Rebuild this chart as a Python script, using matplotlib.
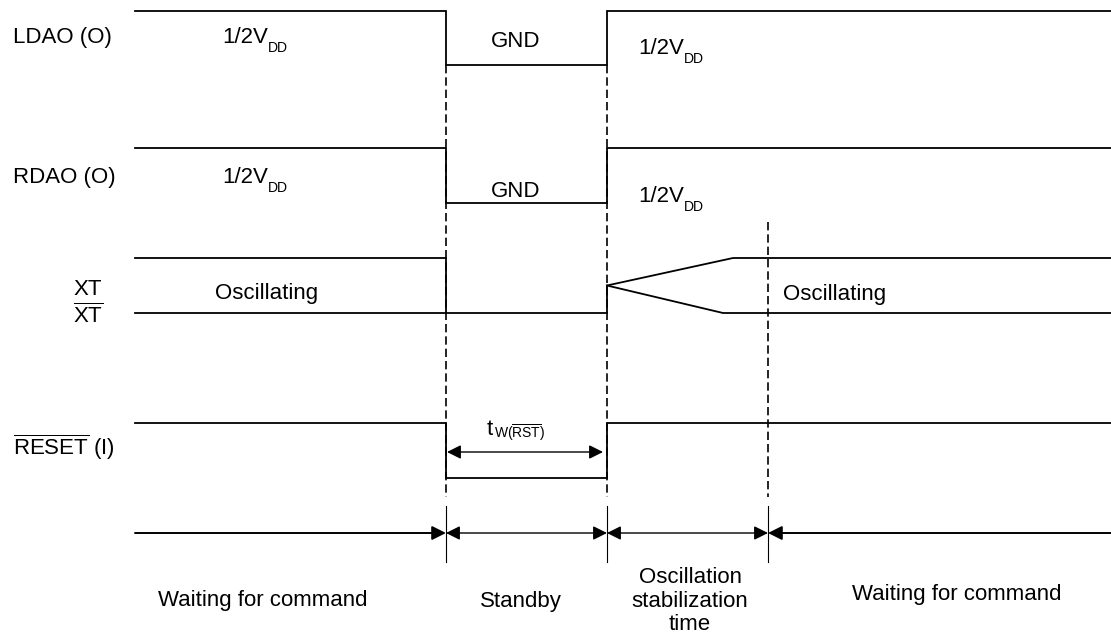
import matplotlib.pyplot as plt

plt.rcParams['font.family'] = ['Liberation Sans', 'DejaVu Sans']
plt.rcParams['mathtext.fontset'] = 'custom'
plt.rcParams['mathtext.rm'] = 'Liberation Sans'
plt.rcParams['mathtext.it'] = 'Liberation Sans:italic'
plt.rcParams['mathtext.bf'] = 'Liberation Sans:bold'

# time marks along the diagram (pixel units)
t_start = 135
t_end = 1111
t_off = 446      # standby starts
t_on = 607       # standby ends
t_stable = 768   # oscillation stable
t_xt_up = 733    # envelope reaches full swing (top)
t_xt_dn = 723    # envelope reaches full swing (bottom)

# (high y, low y) of each row
ldao_row = (11, 65)
rdao_row = (148, 203)
xt_row = (258, 313)
reset_row = (423, 478)
timeline_y = 533

# waveforms: times and levels (1 = high, 0 = low)
ldao_t = [t_start, t_off, t_off, t_on, t_on, t_end]
ldao_v = [1, 1, 0, 0, 1, 1]
rdao_t = [t_start, t_off, t_off, t_on, t_on, t_end]
rdao_v = [1, 1, 0, 0, 1, 1]
reset_t = [t_start, t_off, t_off, t_on, t_on, t_end]
reset_v = [1, 1, 0, 0, 1, 1]

# XT / XT-bar envelope, several pieces
xt_pieces = [
    ([t_start, t_off, t_off], [1, 1, 0]),
    ([t_start, t_on, t_on], [0, 0, 0.5]),
    ([t_on, t_xt_up, t_end], [0.5, 1, 1]),
    ([t_on, t_xt_dn, t_end], [0.5, 0, 0]),
]

phase_edges = [t_start, t_off, t_on, t_stable, t_end]
phase_heads = ['-|>', '<|-|>', '<|-|>', '<|-']
phase_lw = [1.4, 1.0, 1.0, 1.4]
phase_labels = ['Waiting for command', 'Standby',
                'Oscillation\nstabilization\ntime', 'Waiting for command']
phase_label_x = [263, 521, 690, 957]
phase_label_y = [606, 607, 630, 600]   # baseline of last line

# 1/2VDD labels: (x, baseline y)
vdd_pos = [(222, 43), (222, 183), (638, 54), (638, 202)]

fs = 16
fs_sub = 10


def level_y(row, v):
    hi, lo = row
    return [lo + (hi - lo) * s for s in v]


def sub_text(ax, x, y, main, sub, drop=2.6):
    t = ax.text(x, y, main, fontsize=fs, va='baseline')
    ax.annotate(sub, xy=(1, 0), xycoords=t, xytext=(0.3, -drop),
                textcoords='offset points', fontsize=fs_sub,
                ha='left', va='baseline')
    return t


fig = plt.figure(figsize=(11.11, 6.34), dpi=100)
ax = fig.add_axes([0, 0, 1, 1])
ax.set_xlim(0, 1111)
ax.set_ylim(634, 0)
ax.axis('off')

sig_kw = dict(color='black', lw=1.3, solid_joinstyle='miter')
ax.plot(ldao_t, level_y(ldao_row, ldao_v), **sig_kw)
ax.plot(rdao_t, level_y(rdao_row, rdao_v), **sig_kw)
ax.plot(reset_t, level_y(reset_row, reset_v), **sig_kw)
for t, v in xt_pieces:
    ax.plot(t, level_y(xt_row, v), **sig_kw)

# dashed guide lines
dash_kw = dict(color='black', lw=1.2, linestyle=(0, (5, 2.4)))
ax.plot([t_off, t_off], [ldao_row[1], 497], **dash_kw)
ax.plot([t_on, t_on], [ldao_row[1], 497], **dash_kw)
ax.plot([t_stable, t_stable], [222, 497], **dash_kw)

# thin tick lines on the timeline
for x in phase_edges[1:-1]:
    ax.plot([x, x], [506, 562], color='black', lw=0.8)

# phase arrows
for i in range(len(phase_edges) - 1):
    ax.annotate('', xy=(phase_edges[i + 1], timeline_y),
                xytext=(phase_edges[i], timeline_y),
                arrowprops=dict(arrowstyle=phase_heads[i], color='black',
                                lw=phase_lw[i], mutation_scale=21,
                                shrinkA=0, shrinkB=0))

# tW(RST) arrow
ax.annotate('', xy=(t_on - 4, 452), xytext=(t_off + 1, 452),
            arrowprops=dict(arrowstyle='<|-|>', color='black', lw=1.0,
                            mutation_scale=21, shrinkA=0, shrinkB=0))
sub_text(ax, 487, 435, 't', r'W($\overline{\mathrm{RST}}$)', drop=-1.2)

# signal names
ax.text(13, 43, 'LDAO (O)', fontsize=fs, va='baseline')
ax.text(13, 183, 'RDAO (O)', fontsize=fs, va='baseline')
ax.text(73, 295, 'XT', fontsize=fs, va='baseline')
ax.text(73, 323, r'$\overline{\mathrm{XT}}$', fontsize=fs, va='baseline')
ax.text(13, 455, r'$\overline{\mathrm{RESET}}$ (I)', fontsize=fs, va='baseline')

# level labels
for x, y in vdd_pos:
    sub_text(ax, x, y, '1/2V', 'DD')
ax.text(516, 47, 'GND', fontsize=fs, ha='center', va='baseline')
ax.text(516, 197, 'GND', fontsize=fs, ha='center', va='baseline')
ax.text(215, 299, 'Oscillating', fontsize=fs, va='baseline')
ax.text(783, 300, 'Oscillating', fontsize=fs, va='baseline')

# phase labels
for x, y, s in zip(phase_label_x, phase_label_y, phase_labels):
    ax.text(x, y, s, fontsize=fs, ha='center', va='baseline',
            multialignment='center', linespacing=1.15)

fig.savefig('out.png', dpi=100)
